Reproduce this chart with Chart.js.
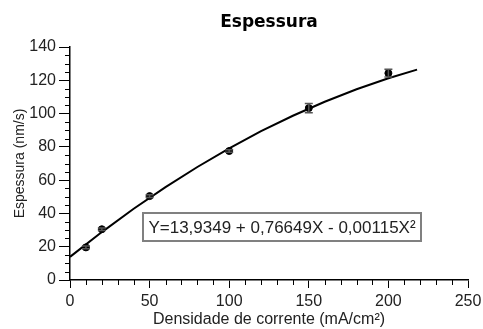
<!DOCTYPE html>
<html>
<head>
<meta charset="utf-8">
<script src="https://cdn.jsdelivr.net/npm/chart.js@4"></script>
<style>
html,body{margin:0;padding:0;background:#fff;}
#wrap{width:483px;height:329px;}
</style>
</head>
<body>
<div id="wrap"><canvas id="c" width="483" height="329"></canvas></div>
<script>
// Measured points
const densidade = [10, 20, 50, 100, 150, 200];
const espessura = [19.6, 30.5, 50.4, 77.5, 103.3, 124.3];
const erro = [0.8, 0.8, 0.8, 0.8, 2.8, 2.4];
// Fitted curve
const curvaX = [0, 20, 40, 60, 80, 100, 120, 140, 160, 180, 200, 218];
const curvaY = [13.9, 28.8, 42.8, 55.8, 67.9, 79.1, 89.4, 98.7, 107.1, 114.6, 121.2, 126.4];
const equacao = 'Y=13,9349 + 0,76649X - 0,00115X²';
const xTicks = [0, 50, 100, 150, 200, 250];
const yTicks = [0, 20, 40, 60, 80, 100, 120, 140];

const FONT = 'Liberation Sans';
const TXT = '#222';

const extras = {
  id: 'extras',
  afterDatasetsDraw(chart) {
    const ctx = chart.ctx, xs = chart.scales.x, ys = chart.scales.y, a = chart.chartArea;
    ctx.save();
    // error bars
    ctx.strokeStyle = '#555'; ctx.lineWidth = 1.5;
    densidade.forEach((d, i) => {
      const px = xs.getPixelForValue(d);
      const top = ys.getPixelForValue(espessura[i] + erro[i]);
      const bot = ys.getPixelForValue(espessura[i] - erro[i]);
      ctx.beginPath();
      ctx.moveTo(px, top); ctx.lineTo(px, bot);
      ctx.moveTo(px - 4, top); ctx.lineTo(px + 4, top);
      ctx.moveTo(px - 4, bot); ctx.lineTo(px + 4, bot);
      ctx.stroke();
    });
    // minor ticks
    ctx.strokeStyle = '#000'; ctx.lineWidth = 1;
    for (let v = 0; v <= 250; v += 10) {
      if (v % 50 === 0) continue;
      const px = Math.round(xs.getPixelForValue(v)) + 0.5;
      ctx.beginPath(); ctx.moveTo(px, a.bottom); ctx.lineTo(px, a.bottom + 5); ctx.stroke();
    }
    for (let v = 0; v <= 140; v += 5) {
      if (v % 20 === 0) continue;
      const py = Math.round(ys.getPixelForValue(v)) + 0.5;
      ctx.beginPath(); ctx.moveTo(a.left - 5, py); ctx.lineTo(a.left, py); ctx.stroke();
    }
    // equation box
    const bx = a.left + 73, by = a.top + 166, bw = 278, bh = 28;
    ctx.fillStyle = '#fff';
    ctx.fillRect(bx, by, bw, bh);
    ctx.strokeStyle = '#808080'; ctx.lineWidth = 2;
    ctx.strokeRect(bx, by, bw, bh);
    ctx.fillStyle = TXT;
    ctx.font = '17px "' + FONT + '"';
    ctx.textAlign = 'center'; ctx.textBaseline = 'middle';
    ctx.fillText(equacao, bx + bw / 2, by + bh / 2 + 1);
    ctx.restore();
  }
};

new Chart(document.getElementById('c'), {
  type: 'scatter',
  data: {
    datasets: [
      {
        label: 'Ajuste',
        data: curvaX.map((x, i) => ({x, y: curvaY[i]})),
        showLine: true,
        borderColor: '#000',
        borderWidth: 2,
        pointRadius: 0,
        tension: 0,
        order: 2
      },
      {
        label: 'Espessura',
        data: densidade.map((x, i) => ({x, y: espessura[i]})),
        backgroundColor: '#000',
        borderColor: '#000',
        pointRadius: 3.5,
        order: 1
      }
    ]
  },
  options: {
    responsive: false,
    animation: false,
    layout: { padding: { right: 15, left: 0, bottom: 0 } },
    plugins: {
      legend: { display: false },
      tooltip: { enabled: false },
      title: {
        display: true,
        text: 'Espessura',
        fullSize: false,
        color: '#000',
        font: { family: 'DejaVu Sans', size: 17, weight: 'bold' },
        padding: { top: 12, bottom: 14.6 }
      }
    },
    scales: {
      x: {
        type: 'linear', min: 0, max: 250,
        afterFit: s => { s.height = 49; s.paddingRight = 0; s.paddingLeft = 0; },
        afterBuildTicks: s => { s.ticks = xTicks.map(v => ({value: v})); },
        border: { color: '#000', width: 1.5 },
        grid: { drawOnChartArea: false, drawTicks: true, tickLength: 8, color: '#000' },
        ticks: { color: TXT, padding: 4, font: { family: FONT, size: 16 } },
        title: { display: true, text: 'Densidade de corrente (mA/cm²)', color: TXT,
                 font: { family: FONT, size: 16 }, padding: { top: 0, bottom: 0 } }
      },
      y: {
        type: 'linear', min: 0, max: 140,
        afterFit: s => { s.width = 70; s.paddingTop = 0; s.paddingBottom = 0; },
        afterBuildTicks: s => { s.ticks = yTicks.map(v => ({value: v})); },
        border: { color: '#000', width: 1.5 },
        grid: { drawOnChartArea: false, drawTicks: true, tickLength: 11, color: '#000' },
        ticks: { color: TXT, padding: 3, font: { family: FONT, size: 16 } },
        title: { display: true, text: 'Espessura (nm/s)', color: TXT,
                 font: { family: FONT, size: 14 }, padding: { top: 12, bottom: 0 } }
      }
    }
  },
  plugins: [extras]
});
</script>
</body>
</html>
